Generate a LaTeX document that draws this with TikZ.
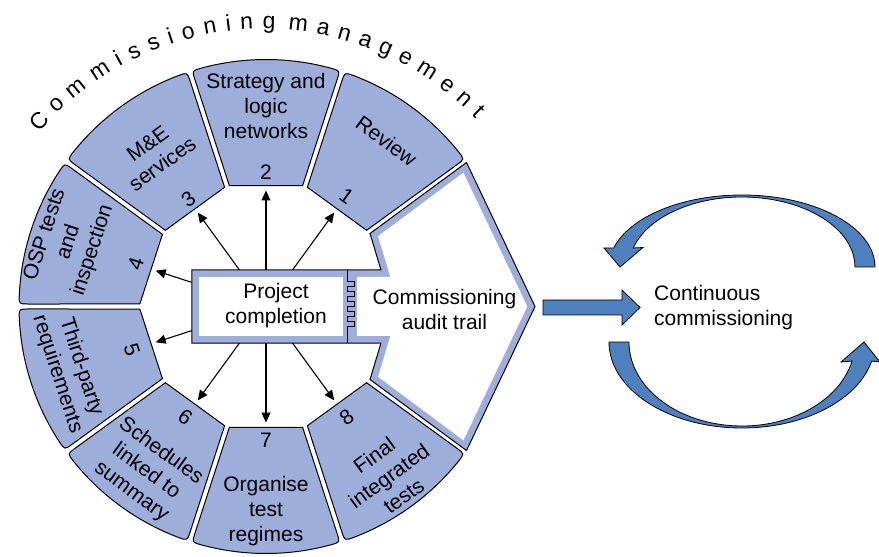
\documentclass[tikz,border=0pt]{standalone}
\usepackage{fontspec}
\setmainfont{Liberation Sans}
\usetikzlibrary{arrows.meta,decorations.text}
\definecolor{segblue}{HTML}{9DAEDA}
\definecolor{loopblue}{HTML}{4F80BE}

\begin{document}
\begin{tikzpicture}[
        x=1pt, y=1pt,
        seg/.style={draw=black, line width=1pt, fill=segblue},
        label/.style={font=\fontsize{21}{25}\selectfont, align=center, inner sep=0pt},
        num/.style={font=\fontsize{21}{25}\selectfont, inner sep=0pt},
        link/.style={-{Triangle[length=10pt,width=9pt]}, line width=1.1pt},
        loop/.style={draw=black, line width=0.8pt, fill=loopblue},
        arctext/.style={decorate, decoration={text along path,
            text={|\fontsize{23}{23}\selectfont|#1}, text align=fit to path}}
    ]
        \useasboundingbox (-266,-250.5) rectangle (613,306.5);

        % Sectors round the hub
        \foreach \a/\n in {54/1,90/2,126/3,162/4,198/5,234/6,270/7,306/8}{
            \begin{scope}[rotate=\a]
                \draw[seg] (120.78,-36.61) -- (227.12,-71.17) .. controls (235.68,-73.95) .. (-15.33:247)
                    arc[start angle=-15.33, end angle=15.33, radius=247]
                    .. controls (235.68,73.95) .. (227.12,71.17) -- (120.78,36.61) -- cycle;
                \coordinate (tip\n) at (116,0);
            \end{scope}
        }

        % Sector texts and numbers
        \foreach \a/\r/\rot/\n/\nr/\txt in {
            54/205/-36/1/137/{Review},
            90/201/0/2/134.5/{Strategy and\\logic\\networks},
            126/189/36/3/132/{M\&E\\services},
            162/207/72/4/137/{OSP tests\\and\\inspection},
            198/207/-72/5/141/{Third-party\\requirements},
            234/204/-36/6/137/{Schedules\\linked to\\summary},
            270/205/0/7/134/{Organise\\test\\regimes},
            306/209/36/8/137/{Final\\integrated\\tests}}{
            \node[label, rotate=\rot] (txt\n) at (\a:\r) {\txt};
            \node[num, rotate=\rot] (num\n) at (\a:\nr) {\n};
        }

        % Hub box and audit trail arrow
        \draw[draw=black, line width=1pt, fill=segblue] (-74,36.5) -- (115,36.5) -- (104,73) -- (200.5,144)
            -- (269,0) -- (200.5,-144) -- (104,-73) -- (115,-36.5) -- (-74,-36.5) -- cycle;
        \fill[white] (-67,29.5) rectangle (77,-29.5);
        \fill[white] (91,29.5) -- (124.4,29.5) -- (112.1,70.3) -- (197.4,133.8) -- (261.3,0)
            -- (197.4,-133.8) -- (112.1,-70.3) -- (124.4,-29.5) -- (91,-29.5) -- cycle;
        \draw[line width=1pt] (81.5,36.5) -- (81.5,25)
            \foreach \k in {1,...,5}{ -- ++(7,0) -- ++(0,-5) -- ++(-7,0) -- ++(0,-5)} -- (81.5,-36.5);

        \node[minimum width=148pt, minimum height=73pt, inner sep=0pt] (hub) at (0,0) {};
        \node[label] (pctext) at (10,1) {Project\\completion};
        \node[label] (trail) at (178.5,-3) {Commissioning\\audit trail};

        % Links to the sectors
        \foreach \n in {1,...,8}{
            \draw[link] (hub) -- (tip\n);
        }

        % Title
        \path[arctext=Commissioning] (-2,-17.5) ++(139.6:295) arc[start angle=139.6, end angle=87.8, radius=295];
        \path[arctext=management] (-2,-17.5) ++(85.3:295) arc[start angle=85.3, end angle=44.1, radius=295];

        % Continuous commissioning loop
        \draw[loop] (277,6.5) -- (356,6.5) -- (356,16.5) -- (374,-1) -- (356,-18.5) -- (356,-8.5) -- (277,-8.5) -- cycle;
        \node[label, align=left, anchor=west] (cc) at (388,-1) {Continuous\\commissioning};

        \draw[loop] (609,39.5) arc[start angle=0, end angle=164.7, x radius=133, y radius=72]
            -- (338,58.5) -- (354,39.5) -- (377,59) -- (367.24,58.5)
            arc[start angle=164.25, end angle=0, x radius=113, y radius=70] -- cycle;
        \draw[loop] (343,-35.5) arc[start angle=180, end angle=347.2, x radius=133, y radius=86]
            -- (614,-55.5) -- (598,-35.5) -- (575,-55.5) -- (586.06,-54.54)
            arc[start angle=346.9, end angle=180, x radius=113, y radius=84] -- cycle;
\end{tikzpicture}
\end{document}
